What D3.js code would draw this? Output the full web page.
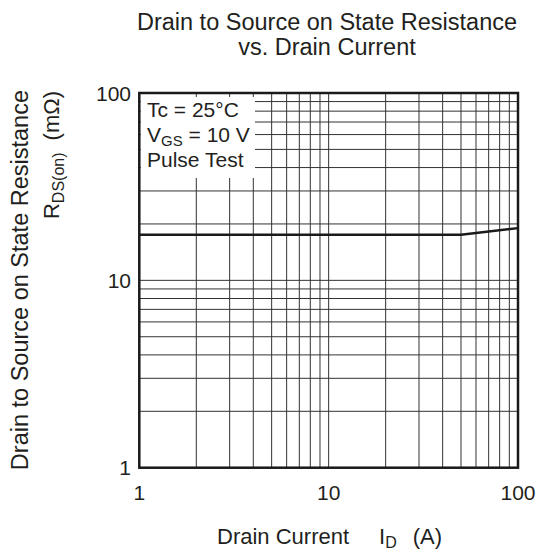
<!DOCTYPE html>
<html>
<head>
<meta charset="utf-8">
<script src="https://cdn.jsdelivr.net/npm/d3@7"></script>
<style>
    body { margin: 0; background: #fff; }
    text { font-family: "Liberation Sans", Arial, sans-serif; fill: #231f20; }
</style>
</head>
<body>
<div id="chart"></div>
<script>
// drain current (A) vs Rds(on) (mOhm)
var drain_current = [1, 20, 50, 100];
var rds_on = [17.5, 17.5, 17.5, 19.0];
var x_ticks = [1, 10, 100];
var y_ticks = [1, 10, 100];
var title_lines = ["Drain to Source on State Resistance", "vs. Drain Current"];
// each legend line: [text, subscript, text after]
var legend_lines = [["Tc = 25\u00b0C", "", ""], ["V", "GS", " = 10 V"], ["Pulse Test", "", ""]];

function draw_chart() {
    var width = 550;
    var height = 551;
    var plot = { "left": 139.3, "right": 518, "top": 93, "bottom": 467.7 };

    var svg = d3.select("#chart")
        .append("svg")
        .attr("width", width)
        .attr("height", height);

    var x_scale = d3.scaleLog().domain([1, 100]).range([plot.left, plot.right]);
    var y_scale = d3.scaleLog().domain([1, 100]).range([plot.bottom, plot.top]);

    // grid, every 1..9 of each decade
    var grid = svg.append("g").attr("stroke", "#333").attr("stroke-width", 1);
    grid.selectAll(".vgrid").data(x_scale.ticks())
        .enter().append("line")
        .attr("x1", function (d) { return x_scale(d); })
        .attr("x2", function (d) { return x_scale(d); })
        .attr("y1", plot.top)
        .attr("y2", plot.bottom);
    grid.selectAll(".hgrid").data(y_scale.ticks())
        .enter().append("line")
        .attr("y1", function (d) { return y_scale(d); })
        .attr("y2", function (d) { return y_scale(d); })
        .attr("x1", plot.left)
        .attr("x2", plot.right);

    // legend box hides the grid behind it
    svg.append("rect")
        .attr("x", plot.left + 1.5)
        .attr("y", plot.top + 4)
        .attr("width", 255 - plot.left - 1.5)
        .attr("height", 178 - plot.top - 4)
        .attr("fill", "#fff");

    svg.selectAll(".legend-text").data(legend_lines)
        .enter().append("text")
        .attr("x", 147)
        .attr("y", function (d, i) { return 117 + i * 25; })
        .attr("font-size", 21)
        .each(function (d) {
            var t = d3.select(this);
            t.append("tspan").text(d[0]);
            if (d[1]) {
                t.append("tspan").attr("dy", 4).attr("font-size", 15).text(d[1]);
                t.append("tspan").attr("dy", -4).text(d[2]);
            }
        });

    // data curve
    var line = d3.line()
        .x(function (d) { return x_scale(d[0]); })
        .y(function (d) { return y_scale(d[1]); });
    svg.append("path")
        .datum(d3.zip(drain_current, rds_on))
        .attr("d", line)
        .attr("fill", "none")
        .attr("stroke", "#1a1a1a")
        .attr("stroke-width", 2.5);

    // frame
    svg.append("rect")
        .attr("x", plot.left)
        .attr("y", plot.top)
        .attr("width", plot.right - plot.left)
        .attr("height", plot.bottom - plot.top)
        .attr("fill", "none")
        .attr("stroke", "#1a1a1a")
        .attr("stroke-width", 2.5);

    // tick labels
    svg.selectAll(".x-label").data(x_ticks)
        .enter().append("text")
        .attr("x", function (d) { return x_scale(d); })
        .attr("y", 500)
        .attr("text-anchor", "middle")
        .attr("font-size", 21)
        .text(function (d) { return d; });
    svg.selectAll(".y-label").data(y_ticks)
        .enter().append("text")
        .attr("x", 131)
        .attr("y", function (d) { return y_scale(d) + 7.5; })
        .attr("text-anchor", "end")
        .attr("font-size", 21)
        .text(function (d) { return d; });

    // title
    svg.selectAll(".title").data(title_lines)
        .enter().append("text")
        .attr("x", 327)
        .attr("y", function (d, i) { return 30 + i * 25; })
        .attr("text-anchor", "middle")
        .attr("font-size", 23.5)
        .text(function (d) { return d; });

    // x axis title
    var xt = svg.append("text")
        .attr("x", 217)
        .attr("y", 544)
        .attr("font-size", 22);
    xt.append("tspan").text("Drain Current");
    xt.append("tspan").attr("dx", 30).text("I");
    xt.append("tspan").attr("dy", 4).attr("font-size", 16).text("D");
    xt.append("tspan").attr("dy", -4).attr("dx", 16).text("(A)");

    // y axis title, two lines
    svg.append("text")
        .attr("transform", "translate(28,90) rotate(-90)")
        .attr("text-anchor", "end")
        .attr("font-size", 23.5)
        .text("Drain to Source on State Resistance");
    var yt = svg.append("text")
        .attr("transform", "translate(59,91) rotate(-90)")
        .attr("text-anchor", "end")
        .attr("font-size", 22);
    yt.append("tspan").text("R");
    yt.append("tspan").attr("dy", 5).attr("font-size", 16).text("DS(on)");
    yt.append("tspan").attr("dy", -5).attr("dx", 12).text("(m\u03a9)");
}

draw_chart();
</script>
</body>
</html>
